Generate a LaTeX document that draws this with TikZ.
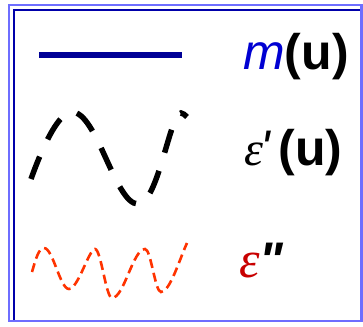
\documentclass[tikz,border=0pt]{standalone}
\usepackage{fontspec}
\setmainfont{Liberation Sans}
\newfontfamily\serifg{Liberation Serif}
\newfontfamily\rawsans{Liberation Sans}
\definecolor{outerblue}{RGB}{110,110,255}
\definecolor{innerblue}{RGB}{0,0,170}
\definecolor{lineblue}{RGB}{0,0,150}
\definecolor{mblue}{RGB}{0,0,210}
\definecolor{waveorange}{RGB}{255,51,0}
\definecolor{epsred}{RGB}{200,0,0}
\tikzset{
  lbl/.style={anchor=base west, inner sep=0pt, font=\fontsize{50}{50}\selectfont},
  blackwave/.style={line width=5.5pt, dash pattern=on 24pt off 19pt},
  redwave/.style={line width=2.6pt, color=waveorange, dash pattern=on 9pt off 5pt},
}
\begin{document}
\begin{tikzpicture}[x=1pt,y=-1pt]
\useasboundingbox (0,0) rectangle (363,326);
% frame
\draw[outerblue, line width=2.5pt] (9.2,5.2) rectangle (361.3,321.2);
\draw[innerblue, line width=2pt] (13.7,320) -- (13.7,10.5) -- (360,10.5);
% legend line 1
\coordinate (l1a) at (39,55);
\coordinate (l1b) at (182,55);
\draw[lineblue, line width=5.5pt] (l1a) -- (l1b);
\node[lbl] (mu) at (243,70) {\textcolor{mblue}{\itshape m}\textbf{(u)}};
% legend line 2
\coordinate (w1s) at (31,179);
\draw[blackwave] (w1s) .. controls (45,140) and (60,112) .. (72,112)
  .. controls (97,112) and (115,204) .. (138,204)
  .. controls (158,204) and (170,113) .. (181,113)
  .. controls (183,113) and (185,115) .. (187,117);
\node[lbl] (eps1) at (244,165) {{\serifg\itshape\fontsize{48}{48}\selectfont ε}\kern-3pt{\rawsans\itshape\char"27}\kern9pt\textbf{(u)}};
% legend line 3
\coordinate (w2s) at (32,272);
\draw[redwave] (w2s) .. controls (36,258) and (39,248) .. (44,248)
  .. controls (53,248) and (60,289) .. (69,289)
  .. controls (78,289) and (89,249) .. (95,249)
  .. controls (101,249) and (106,298) .. (112,298)
  .. controls (124,298) and (133,249) .. (145,249)
  .. controls (151,249) and (155,292) .. (161,292)
  .. controls (170,292) and (180,258) .. (187,243);
\node[lbl] (eps2) at (239,277) {{\serifg\itshape\color{epsred}\fontsize{52}{52}\selectfont ε}{\rawsans\bfseries\itshape\char"22}};
\end{tikzpicture}
\end{document}
